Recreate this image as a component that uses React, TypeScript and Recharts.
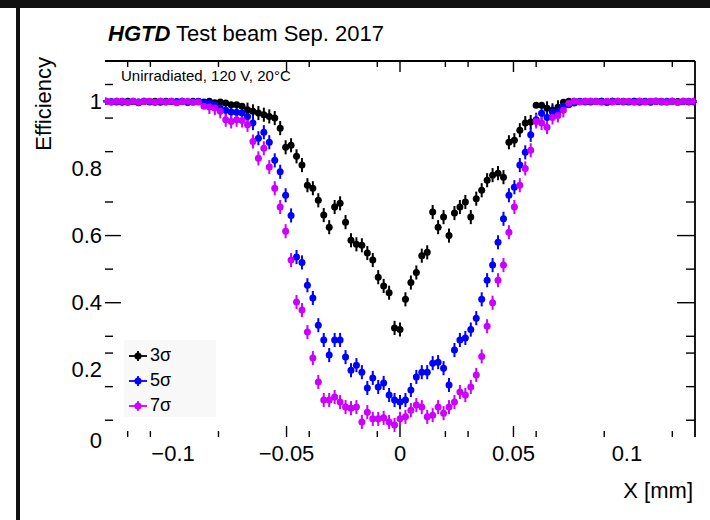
import React from "react";
import {
  ScatterChart,
  Scatter,
  XAxis,
  YAxis,
  ErrorBar,
  ReferenceLine,
  Legend,
} from "recharts";

// bin centres along X [mm]
const X_BINS = [
  -0.1296, -0.1272, -0.1248, -0.1224, -0.12, -0.1176, -0.1152, -0.1128, -0.1104, -0.108,
  -0.1056, -0.1032, -0.1008, -0.0984, -0.096, -0.0936, -0.0912, -0.0888, -0.0864, -0.084,
  -0.0816, -0.0792, -0.0768, -0.0744, -0.072, -0.0696, -0.0672, -0.0648, -0.0624, -0.06,
  -0.0576, -0.0552, -0.0528, -0.0504, -0.048, -0.0456, -0.0432, -0.0408, -0.0384, -0.036,
  -0.0336, -0.0312, -0.0288, -0.0264, -0.024, -0.0216, -0.0192, -0.0168, -0.0144, -0.012,
  -0.0096, -0.0072, -0.0048, -0.0024, 0,
  0.0024, 0.0048, 0.0072, 0.0096, 0.012, 0.0144, 0.0168, 0.0192, 0.0216, 0.024,
  0.0264, 0.0288, 0.0312, 0.0336, 0.036, 0.0384, 0.0408, 0.0432, 0.0456, 0.048,
  0.0504, 0.0528, 0.0552, 0.0576, 0.06, 0.0624, 0.0648, 0.0672, 0.0696, 0.072,
  0.0744, 0.0768, 0.0792, 0.0816, 0.084, 0.0864, 0.0888, 0.0912, 0.0936, 0.096,
  0.0984, 0.1008, 0.1032, 0.1056, 0.108, 0.1104, 0.1128, 0.1152, 0.1176, 0.12,
  0.1224, 0.1248, 0.1272, 0.1296,
];

// efficiency, 3 sigma threshold
const EFF_3S = [
  1.0, 0.998, 1.0, 0.997, 1.0, 0.999, 0.996, 1.0, 0.998, 1.0,
  0.997, 1.0, 0.999, 0.998, 1.0, 0.997, 1.0, 0.999, 0.998, 1.0,
  0.996, 0.998, 0.995, 0.99, 0.99, 0.985, 0.975, 0.97, 0.965, 0.96,
  0.955, 0.95, 0.92, 0.863, 0.869, 0.836, 0.81, 0.75, 0.741, 0.705,
  0.661, 0.625, 0.685, 0.696, 0.64, 0.586, 0.574, 0.571, 0.548, 0.527,
  0.476, 0.45, 0.43, 0.325, 0.32, 0.41, 0.46, 0.49, 0.54, 0.55,
  0.67, 0.625, 0.655, 0.6, 0.667, 0.685, 0.7, 0.655, 0.71, 0.735,
  0.765, 0.78, 0.786, 0.774, 0.878, 0.884, 0.914, 0.935, 0.938, 0.988,
  0.988, 0.979, 0.973, 0.982, 0.997, 1.0, 1.0, 0.999, 1.0, 0.998,
  1.0, 1.0, 0.997, 1.0, 0.999, 1.0, 0.998, 1.0, 1.0, 0.999,
  0.997, 1.0, 1.0, 0.998, 1.0, 0.999, 1.0, 0.998, 1.0,
];

// efficiency, 5 sigma threshold
const EFF_5S = [
  1.0, 0.999, 0.998, 1.0, 0.997, 1.0, 0.998, 1.0, 0.999, 0.997,
  1.0, 0.998, 1.0, 0.999, 1.0, 0.997, 0.998, 1.0, 0.996, 0.994,
  0.99, 0.98, 0.973, 0.968, 0.967, 0.965, 0.955, 0.935, 0.89, 0.908,
  0.878, 0.824, 0.79, 0.72, 0.66, 0.536, 0.52, 0.452, 0.414, 0.333,
  0.289, 0.244, 0.289, 0.289, 0.238, 0.199, 0.214, 0.193, 0.146, 0.176,
  0.149, 0.161, 0.125, 0.11, 0.104, 0.11, 0.14, 0.179, 0.193, 0.193,
  0.22, 0.223, 0.205, 0.155, 0.259, 0.289, 0.295, 0.32, 0.354, 0.41,
  0.467, 0.512, 0.58, 0.65, 0.72, 0.744, 0.81, 0.848, 0.9, 0.945,
  0.964, 0.952, 0.967, 0.97, 0.985, 0.99, 0.995, 1.0, 0.998, 1.0,
  0.999, 1.0, 0.997, 1.0, 1.0, 0.998, 0.999, 1.0, 0.997, 1.0,
  0.999, 1.0, 0.998, 1.0, 1.0, 0.997, 0.999, 1.0, 0.998,
];

// efficiency, 7 sigma threshold
const EFF_7S = [
  1.0, 0.998, 1.0, 0.999, 0.997, 1.0, 0.998, 0.999, 1.0, 0.997,
  1.0, 0.998, 1.0, 0.996, 0.999, 1.0, 0.997, 0.998, 0.985, 0.983,
  0.98, 0.97, 0.945, 0.94, 0.945, 0.943, 0.93, 0.88, 0.83, 0.86,
  0.804, 0.741, 0.685, 0.613, 0.527, 0.402, 0.378, 0.3125, 0.235, 0.164,
  0.11, 0.11, 0.119, 0.104, 0.089, 0.086, 0.089, 0.045, 0.074, 0.054,
  0.054, 0.057, 0.045, 0.036, 0.054, 0.06, 0.08, 0.095, 0.089, 0.06,
  0.065, 0.089, 0.071, 0.089, 0.104, 0.134, 0.125, 0.149, 0.185, 0.24,
  0.33, 0.4, 0.467, 0.512, 0.61, 0.685, 0.75, 0.8, 0.854, 0.94,
  0.935, 0.923, 0.952, 0.958, 0.973, 0.994, 1.0, 0.998, 1.0, 1.0,
  0.999, 0.997, 1.0, 0.998, 1.0, 0.999, 1.0, 0.997, 1.0, 0.998,
  1.0, 1.0, 0.999, 0.998, 1.0, 0.997, 1.0, 0.999, 1.0,
];

const SERIES_NAMES = ["3σ", "5σ", "7σ"];
const SERIES_COLORS = ["#000000", "#0000ff", "#cc00ff"];

const X_LABELS = [-0.1, -0.05, 0, 0.05, 0.1];
const X_MAJOR = [-0.05, 0, 0.05];
const X_MINOR = [-0.12, -0.11, -0.08, -0.04, -0.01, 0.02, 0.03, 0.06, 0.09, 0.12];
const Y_LABELS = [0, 0.2, 0.4, 0.6, 0.8, 1];
const Y_MAJOR = [0.4, 0.6];
const Y_MINOR = [0.05, 0.15, 0.25, 0.3, 0.5, 0.7, 0.85, 0.95, 1.05];

const X_TICKS = [...new Set([...X_LABELS, ...X_MAJOR, ...X_MINOR])].sort((a, b) => a - b);
const Y_TICKS = [...new Set([...Y_LABELS, ...Y_MAJOR, ...Y_MINOR])].sort((a, b) => a - b);

const HALF_BIN = 0.0012;
const FONT = "'Liberation Sans', Arial, Helvetica, sans-serif";

const W = 710;
const H = 520;
const PLOT = { left: 105, right: 695, top: 61, bottom: 437 };

const makeSeries = (vals: number[]) =>
  X_BINS.map((x, i) => ({
    x,
    y: vals[i],
    ey: vals[i] >= 0.985 ? 0.006 : 0.021,
    ex: HALF_BIN,
  }));

const DATA = [makeSeries(EFF_3S), makeSeries(EFF_5S), makeSeries(EFF_7S)];

const fmt = (v: number) => (v < 0 ? "\u2212" + Math.abs(v) : String(v));

function XTick(props: any) {
  const { x, payload } = props;
  const v = payload.value;
  const len = X_MAJOR.includes(v) ? 11 : X_MINOR.includes(v) ? 6 : 0;
  return (
    <g>
      {len > 0 && (
        <>
          <line x1={x} x2={x} y1={PLOT.bottom} y2={PLOT.bottom - len} stroke="#000" strokeWidth={1.4} />
          <line x1={x} x2={x} y1={PLOT.top} y2={PLOT.top + len} stroke="#000" strokeWidth={1.4} />
        </>
      )}
      {X_LABELS.includes(v) && (
        <text x={x} y={453} textAnchor="middle" dominantBaseline="central" fontSize={22} fontFamily={FONT} fill="#000">
          {fmt(v)}
        </text>
      )}
    </g>
  );
}

function YTick(props: any) {
  const { y, payload } = props;
  const v = payload.value;
  const major = Y_MAJOR.includes(v);
  const minor = Y_MINOR.includes(v);
  return (
    <g>
      {(major || minor) && (
        <>
          <line x1={PLOT.left} x2={PLOT.left + (major ? 16 : 8)} y1={y} y2={y} stroke="#000" strokeWidth={1.4} />
          <line x1={PLOT.right} x2={PLOT.right - (major ? 18 : 9)} y1={y} y2={y} stroke="#000" strokeWidth={1.4} />
        </>
      )}
      {Y_LABELS.includes(v) && (
        <text x={102} y={v === 0 ? y + 3 : y} textAnchor="end" dominantBaseline="central" fontSize={22} fontFamily={FONT} fill="#000">
          {fmt(v)}
        </text>
      )}
    </g>
  );
}

function LegendBox() {
  return (
    <div style={{ background: "#f8f8f8", width: 92, height: 77, fontFamily: FONT, paddingTop: 3, boxSizing: "border-box" }}>
      {SERIES_NAMES.map((name, i) => (
        <div key={name} style={{ display: "flex", alignItems: "center", height: 25 }}>
          <svg width={24} height={14} style={{ marginLeft: 2 }}>
            <line x1={3} x2={21} y1={7} y2={7} stroke={SERIES_COLORS[i]} strokeWidth={1.8} />
            <line x1={12} x2={12} y1={2} y2={12} stroke={SERIES_COLORS[i]} strokeWidth={1.8} />
            <circle cx={12} cy={7} r={3.6} fill={SERIES_COLORS[i]} />
          </svg>
          <span style={{ fontSize: 18, color: "#000" }}>{name}</span>
        </div>
      ))}
    </div>
  );
}

export default function App() {
  return (
    <div style={{ position: "absolute", left: 0, top: 0, width: W, height: H, background: "#fff", overflow: "hidden" }}>
      <ScatterChart
        width={W}
        height={H}
        margin={{ top: PLOT.top, right: W - PLOT.right, bottom: H - PLOT.bottom - 40, left: PLOT.left - 60 }}
      >
        <XAxis
          type="number"
          dataKey="x"
          domain={[-0.13, 0.13]}
          ticks={X_TICKS}
          interval={0}
          tick={<XTick />}
          tickLine={false}
          axisLine={false}
          height={40}
          allowDataOverflow
        />
        <YAxis
          type="number"
          dataKey="y"
          domain={[0, 1.12]}
          ticks={Y_TICKS}
          interval={0}
          tick={<YTick />}
          tickLine={false}
          axisLine={false}
          width={60}
          allowDataOverflow
        />
        <ReferenceLine y={1.12} stroke="#000" strokeWidth={1.8} />
        <ReferenceLine x={0.13} stroke="#000" strokeWidth={1.8} />
        {DATA.map((d, i) => (
          <Scatter
            key={SERIES_NAMES[i]}
            name={SERIES_NAMES[i]}
            data={d}
            fill={SERIES_COLORS[i]}
            isAnimationActive={false}
            shape={(p: any) => <circle cx={p.cx} cy={p.cy} r={3.5} fill={SERIES_COLORS[i]} />}
          >
            <ErrorBar dataKey="ey" direction="y" width={0} stroke={SERIES_COLORS[i]} strokeWidth={2} />
            <ErrorBar dataKey="ex" direction="x" width={0} stroke={SERIES_COLORS[i]} strokeWidth={2} />
          </Scatter>
        ))}
        <Legend
          layout="vertical"
          align="center"
          verticalAlign="middle"
          content={() => <LegendBox />}
          wrapperStyle={{ position: "absolute", left: 124, top: 340, width: 92, height: 77 }}
        />
      </ScatterChart>

      <svg width={W} height={H} style={{ position: "absolute", left: 0, top: 0, pointerEvents: "none" }}>
        <rect x={0} y={0} width={W} height={8} fill="#111" />
        <rect x={16} y={0} width={4} height={H} fill="#111" />
        <text x={108} y={41} fontSize={22} fontFamily={FONT} fill="#000">
          <tspan fontWeight="bold" fontStyle="italic">HGTD</tspan>
          <tspan> Test beam Sep. 2017</tspan>
        </text>
        <text x={121} y={81} fontSize={15} fontFamily={FONT} fill="#000">
          Unirradiated, 120 V, 20°C
        </text>
        <text transform="translate(51,57) rotate(-90)" textAnchor="end" fontSize={22} fontFamily={FONT} fill="#000">
          Efficiency
        </text>
        <text x={693} y={498} textAnchor="end" fontSize={22} fontFamily={FONT} fill="#000">
          X [mm]
        </text>
      </svg>
    </div>
  );
}
